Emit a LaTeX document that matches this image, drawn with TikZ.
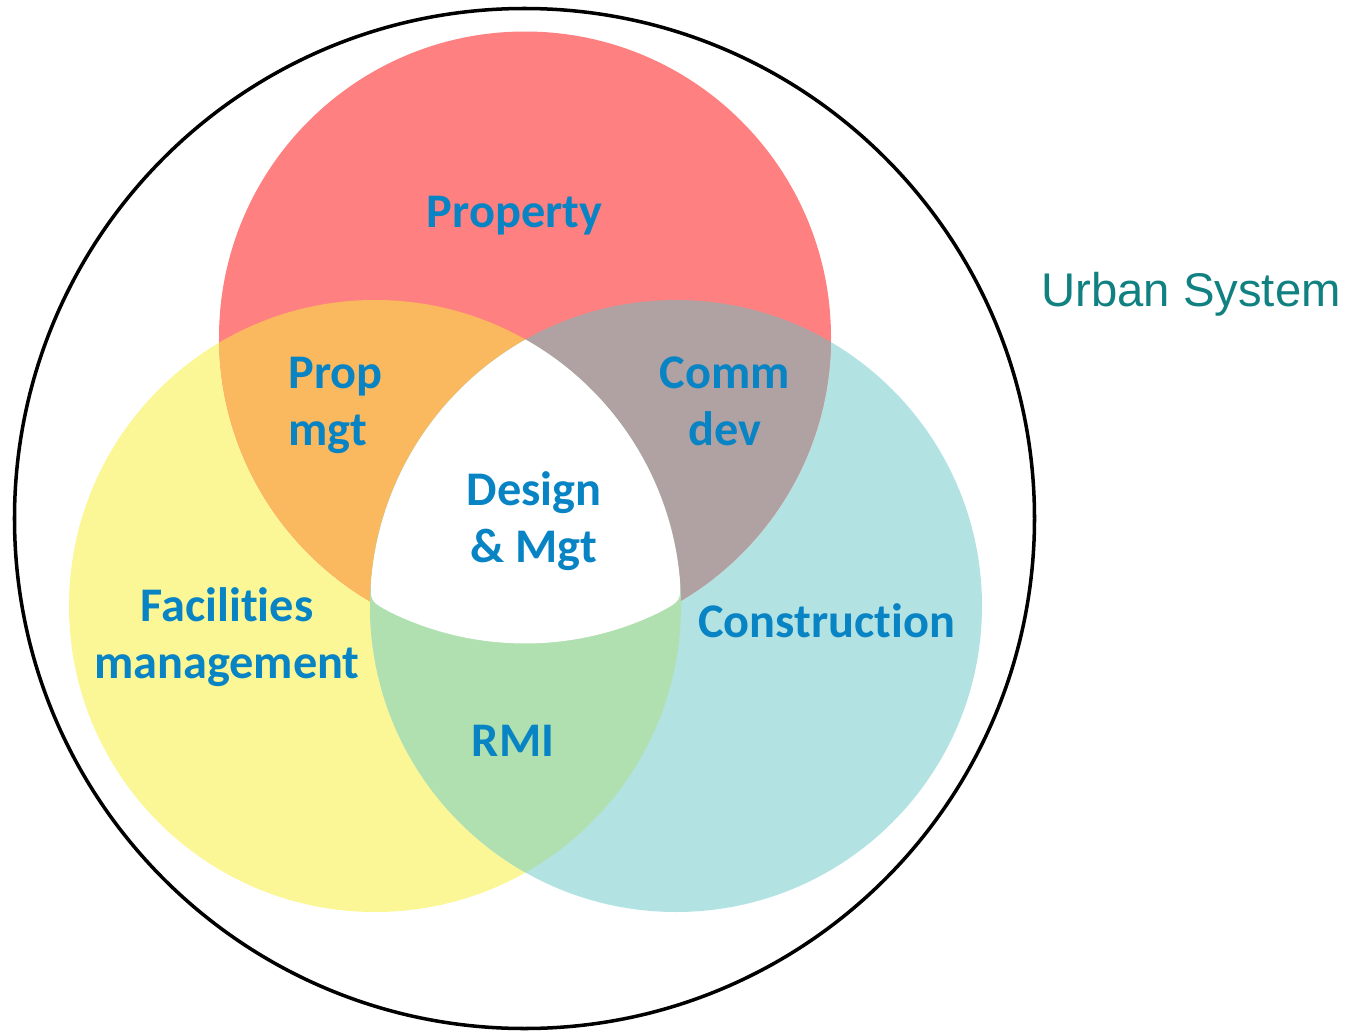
\documentclass[tikz,border=0pt]{standalone}
\usepackage{fontspec}
\setmainfont{Carlito}[Ligatures=NoCommon]
\newfontfamily\arialfont{Liberation Sans}
\definecolor{cred}{RGB}{255,128,128}
\definecolor{cyel}{RGB}{251,247,151}
\definecolor{ccya}{RGB}{178,226,226}
\definecolor{corg}{RGB}{251,185,95}
\definecolor{cgry}{RGB}{176,162,162}
\definecolor{cgrn}{RGB}{176,224,176}
\definecolor{labblue}{RGB}{8,132,196}
\definecolor{teal2}{RGB}{16,128,128}
\tikzset{
  lab/.style={text=labblue, font=\fontsize{27.5}{31}\selectfont\bfseries, anchor=base, inner sep=0pt},
}
\begin{document}
\begin{tikzpicture}[x=0.02cm,y=-0.02cm]
\useasboundingbox (0,0) rectangle (1360,1031);
\def\R{306}
\coordinate (cP) at (525,337.5);
\coordinate (cF) at (375,606);
\coordinate (cC) at (676,606);
\coordinate (T) at (525.5,339.6);
\coordinate (L) at (370,601.4);
\coordinate (Rv) at (681,600.8);
% base circles
\fill[cyel] (cF) circle[radius=\R];
\fill[ccya] (cC) circle[radius=\R];
\fill[cred] (cP) circle[radius=\R];
% pairwise overlaps
\begin{scope}
  \clip (cP) circle[radius=\R];
  \fill[corg] (cF) circle[radius=\R];
  \fill[cgry] (cC) circle[radius=\R];
\end{scope}
\begin{scope}
  \clip (cF) circle[radius=\R];
  \fill[cgrn] (cC) circle[radius=\R];
\end{scope}
% triple overlap (rounded lower corners)
\fill[white] (T) arc[start angle=240.53, end angle=185, radius=\R]
  .. controls (L) .. (390.9,612.5)
  arc[start angle=116, end angle=63.8, radius=\R]
  .. controls (Rv) .. (679.8,579.3)
  arc[start angle=-5, end angle=-60.53, radius=\R] -- cycle;
% outer circle
\node[draw=black, line width=2pt, circle, minimum size=1020*0.02cm, inner sep=0pt] (outer) at (524.5,518.5) {};
% labels
\node[lab] (prop) at (514.5,227) {Property};
\node[lab, anchor=base west] (pm1) at (288,388) {Prop};
\node[lab, anchor=base west] (pm2) at (288,445) {mgt};
\node[lab] (cd1) at (725,388) {Comm};
\node[lab] (cd2) at (725,445) {dev};
\node[lab] (dm1) at (534,505) {Design};
\node[lab] (dm2) at (534,562) {\&~Mgt};
\node[lab] (fm1) at (227,621) {Facilities};
\node[lab] (fm2) at (227,678) {management};
\node[lab] (con) at (826.5,637) {Construction};
\node[lab] (rmi) at (513,756) {RMI};
\node[text=teal2, font=\arialfont\fontsize{26.9}{30}\selectfont, anchor=base west, inner sep=0pt] (urban) at (1041,306) {Urban System};
\end{tikzpicture}
\end{document}
